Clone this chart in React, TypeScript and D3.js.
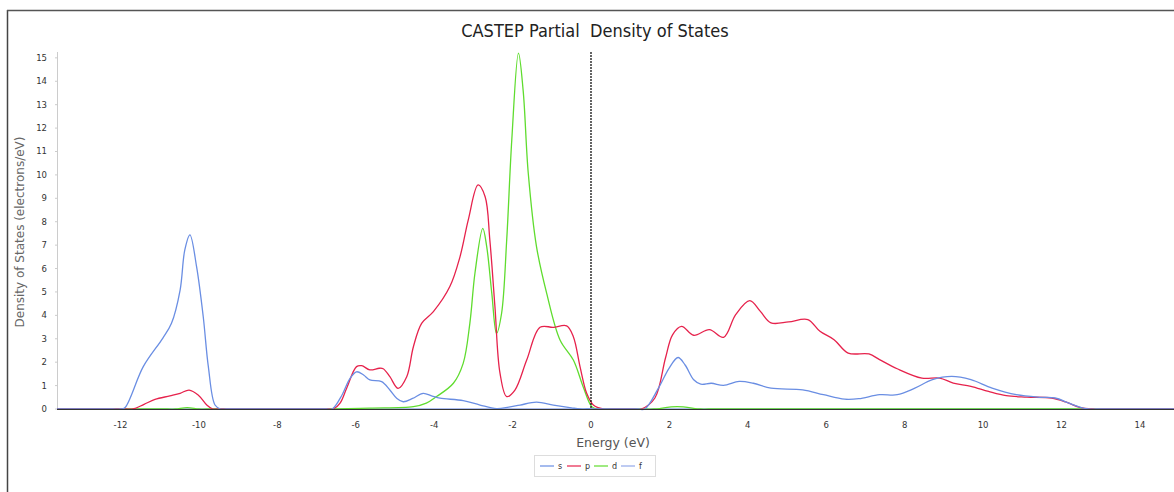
import React from 'react';
import * as d3 from 'd3';

// energy (eV), density (electrons/eV)
const sPoints: [number, number][] = [
  [-13.62, 0], [-12.2, 0], [-12.0, 0], [-11.89, 0.05], [-11.42, 1.81], [-10.92, 3.03], [-10.7, 3.66],
  [-10.48, 5.08], [-10.36, 6.8], [-10.23, 7.44], [-10.06, 6.08], [-9.89, 3.94], [-9.76, 1.81], [-9.59, 0.17],
  [-9.45, 0], [-9.3, 0], [-6.75, 0], [-6.6, 0], [-6.35, 0.6], [-6.15, 1.3], [-5.98, 1.59], [-5.8, 1.45],
  [-5.64, 1.24], [-5.34, 1.17], [-5.13, 0.81], [-4.95, 0.45], [-4.79, 0.31], [-4.55, 0.45], [-4.28, 0.67],
  [-4.05, 0.55], [-3.85, 0.46], [-3.26, 0.36], [-2.83, 0.17], [-2.41, 0.02], [-2.1, 0.08], [-1.81, 0.17],
  [-1.39, 0.29], [-0.96, 0.17], [-0.5, 0.05], [-0.28, 0], [-0.1, 0], [1.2, 0], [1.37, 0], [1.72, 0.89],
  [1.99, 1.74], [2.22, 2.2], [2.4, 1.88], [2.62, 1.25], [2.8, 1.06], [3.07, 1.1], [3.38, 1.01], [3.78, 1.18],
  [4.14, 1.1], [4.59, 0.89], [5.4, 0.82], [5.93, 0.61], [6.47, 0.42], [6.83, 0.44], [7.36, 0.61],
  [7.81, 0.61], [8.26, 0.89], [8.71, 1.25], [9.2, 1.39], [9.69, 1.25], [10.23, 0.89], [10.85, 0.61],
  [11.48, 0.5], [11.84, 0.47], [12.19, 0.25], [12.55, 0.04], [12.7, 0], [12.9, 0], [14.87, 0],
];

const pPoints: [number, number][] = [
  [-13.62, 0], [-11.9, 0], [-11.68, 0], [-11.4, 0.2], [-11.12, 0.41], [-10.74, 0.56], [-10.48, 0.67],
  [-10.25, 0.81], [-10.02, 0.6], [-9.8, 0.17], [-9.65, 0], [-9.5, 0], [-6.72, 0], [-6.57, 0], [-6.4, 0.25],
  [-6.23, 0.9], [-5.98, 1.81], [-5.85, 1.85], [-5.64, 1.67], [-5.4, 1.74], [-5.3, 1.72], [-5.13, 1.38],
  [-4.92, 0.88], [-4.7, 1.38], [-4.53, 2.66], [-4.32, 3.66], [-4.02, 4.16], [-3.6, 5.23], [-3.34, 6.51],
  [-3.13, 8.08], [-2.88, 9.57], [-2.7, 9.07], [-2.58, 7.22], [-2.45, 4.37], [-2.32, 1.52], [-2.15, 0.53],
  [-1.94, 0.81], [-1.64, 2.09], [-1.3, 3.49], [-0.96, 3.49], [-0.62, 3.55], [-0.45, 3.09], [-0.28, 1.81],
  [-0.11, 0.67], [0.06, 0.17], [0.31, 0], [0.5, 0], [1.1, 0], [1.28, 0], [1.63, 0.47], [1.9, 2.18],
  [2.08, 3.17], [2.31, 3.53], [2.62, 3.15], [3.02, 3.39], [3.38, 3.06], [3.69, 4.03], [4.05, 4.63],
  [4.32, 4.17], [4.59, 3.68], [5.04, 3.72], [5.53, 3.82], [5.84, 3.32], [6.2, 2.96], [6.56, 2.39],
  [7.09, 2.35], [7.36, 2.11], [7.81, 1.72], [8.44, 1.32], [8.89, 1.32], [9.24, 1.11], [9.69, 0.97],
  [10.14, 0.75], [10.59, 0.57], [11.12, 0.51], [11.75, 0.47], [12.11, 0.3], [12.46, 0.07], [12.8, 0],
  [13.0, 0], [14.87, 0],
];

const dPoints: [number, number][] = [
  [-13.62, 0], [-10.8, 0], [-10.6, 0], [-10.3, 0.06], [-10.0, 0], [-9.8, 0], [-6.7, 0], [-6.5, 0],
  [-5.64, 0.04], [-4.53, 0.1], [-4.2, 0.25], [-3.94, 0.53], [-3.51, 1.1], [-3.26, 1.95], [-3.09, 3.66],
  [-2.96, 5.8], [-2.76, 7.72], [-2.66, 6.94], [-2.53, 4.94], [-2.41, 3.23], [-2.28, 4.09], [-2.15, 7.22],
  [-2.02, 11.5], [-1.85, 15.2], [-1.73, 13.6], [-1.6, 10.07], [-1.39, 6.94], [-1.13, 4.94], [-0.79, 2.95],
  [-0.45, 2.09], [-0.2, 0.95], [0.02, 0.1], [0.15, 0], [0.35, 0], [1.4, 0], [1.6, 0], [2.2, 0.1], [2.8, 0],
  [3.0, 0], [14.87, 0],
];

const fPoints: [number, number][] = [[-13.62, 0], [14.87, 0]];

const series = [
  { name: 's', color: '#6a8ee3', points: sPoints },
  { name: 'p', color: '#e6224c', points: pPoints },
  { name: 'd', color: '#5fdc2e', points: dPoints },
  { name: 'f', color: '#93a9ea', points: fPoints },
];

const xTicks = [-12, -10, -8, -6, -4, -2, 0, 2, 4, 6, 8, 10, 12, 14];
const yTicks = d3.range(0, 16);

const W = 1174;
const H = 492;

export default function App() {
  const x = d3.scaleLinear().domain([-13.62, 14.87]).range([57, 1174]);
  const y = d3.scaleLinear().domain([0, 15.25]).range([409, 52]);
  const line = d3.line<[number, number]>()
    .x(d => x(d[0]))
    .y(d => y(d[1]))
    .curve(d3.curveCatmullRom.alpha(0.5));

  const tickFont = '"DejaVu Sans", Verdana, sans-serif';
  const labelFont = '"DejaVu Sans Condensed", "DejaVu Sans", sans-serif';

  return (
    <svg width={W} height={H} style={{ position: 'absolute', left: 0, top: 0, background: '#fff' }}>
      {/* outer frame */}
      <line x1={7.5} y1={10} x2={7.5} y2={H} stroke="#444" strokeWidth={1.5} />
      <line x1={7} y1={10.5} x2={W} y2={10.5} stroke="#555" strokeWidth={1.5} />

      <text x={595} y={37} textAnchor="middle" fontFamily={labelFont} fontSize={18} fill="#222"
        style={{ whiteSpace: 'pre' }}>CASTEP Partial  Density of States</text>

      {/* y axis */}
      <line x1={57.5} y1={52} x2={57.5} y2={409} stroke="#ccc" />
      {yTicks.map(t => (
        <g key={t}>
          <line x1={55} x2={58} y1={y(t)} y2={y(t)} stroke="#ccc" />
          <text x={47} y={y(t) + 3} textAnchor="end" fontFamily={tickFont} fontSize={8.5} fill="#333">{t}</text>
        </g>
      ))}
      <text transform={`translate(24,232) rotate(-90)`} textAnchor="middle" fontFamily={tickFont}
        fontSize={12} fill="#666">Density of States (electrons/eV)</text>

      {/* x ticks */}
      {xTicks.map(t => (
        <text key={t} x={x(t)} y={428} textAnchor="middle" fontFamily={tickFont} fontSize={8.5} fill="#333">{t}</text>
      ))}
      <text x={613} y={447} textAnchor="middle" fontFamily={tickFont} fontSize={12.5} fill="#555">Energy (eV)</text>

      {/* curves, f drawn first so it sits under the baseline */}
      {[...series].reverse().map(s => (
        <path key={s.name} d={line(s.points) || ''} fill="none" stroke={s.color} strokeWidth={1.3} />
      ))}

      {/* baseline and Fermi level */}
      <line x1={57} x2={W} y1={409.5} y2={409.5} stroke="#333" strokeWidth={1.2} />
      <line x1={x(0)} x2={x(0)} y1={52} y2={409} stroke="#111" strokeWidth={1.3} strokeDasharray="2,1" />

      {/* legend */}
      <rect x={534.5} y={455.5} width={121} height={21} fill="#fff" stroke="#ddd" />
      {series.map((s, i) => (
        <g key={s.name} transform={`translate(${540 + i * 27},466)`}>
          <line x1={0} x2={14} y1={0} y2={0} stroke={s.color} strokeWidth={1.2} />
          <text x={18} y={3} fontFamily={tickFont} fontSize={8} fill="#333">{s.name}</text>
        </g>
      ))}
    </svg>
  );
}
